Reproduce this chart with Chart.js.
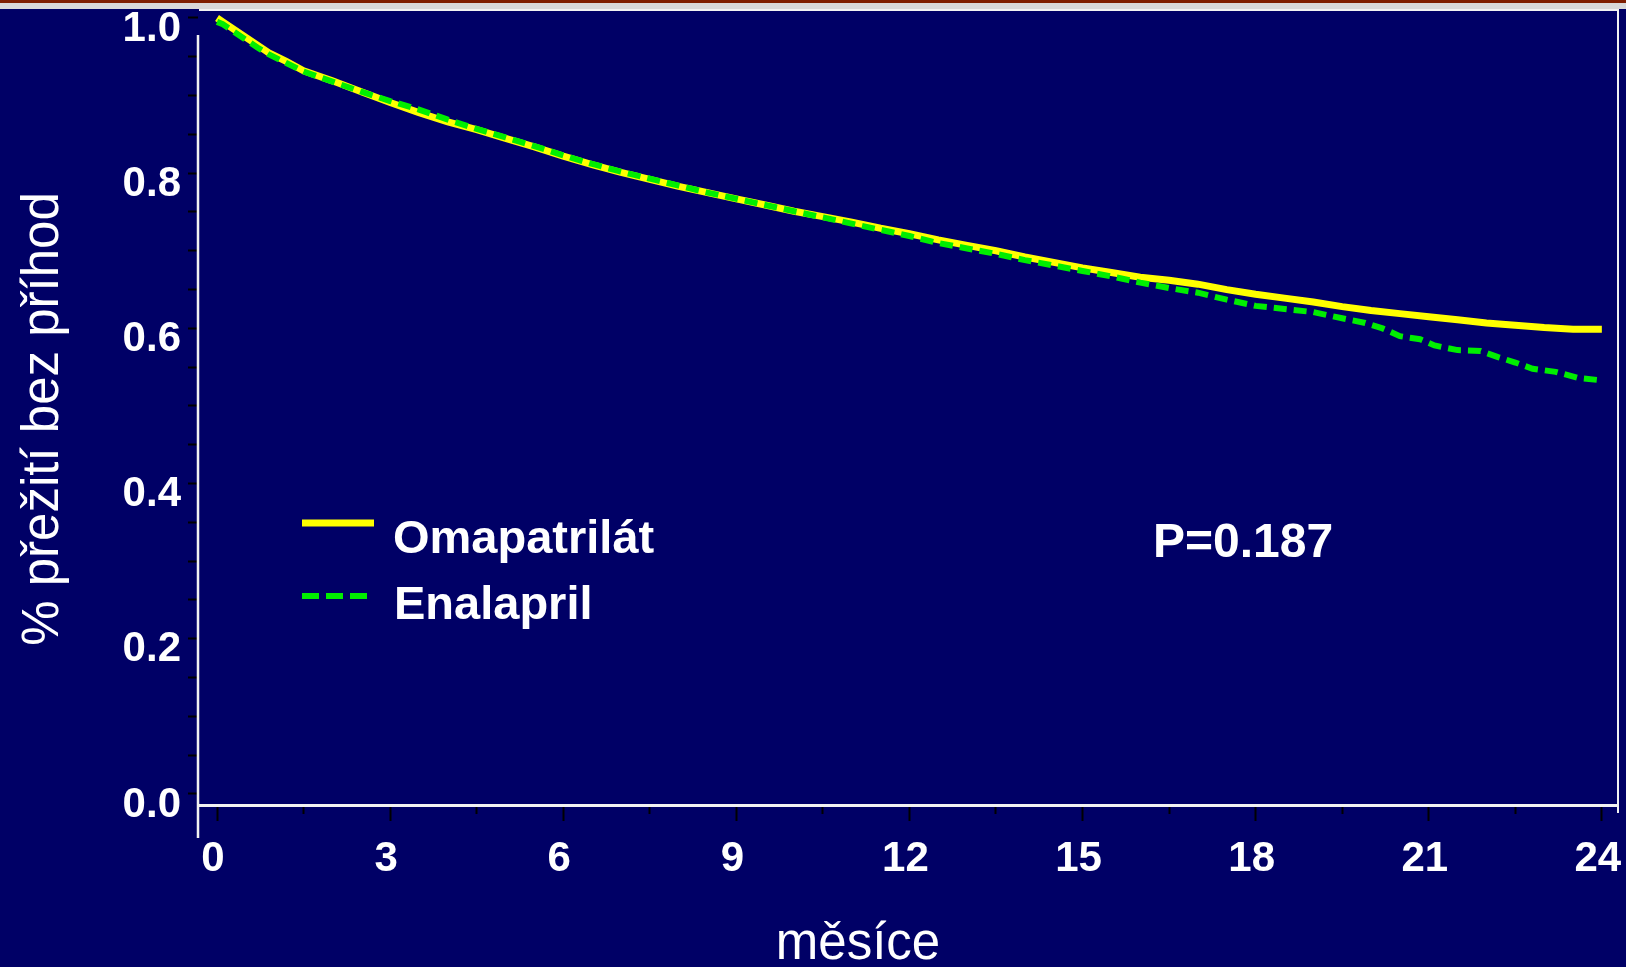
<!DOCTYPE html>
<html>
<head>
<meta charset="utf-8">
<script src="https://cdn.jsdelivr.net/npm/chart.js@4"></script>
<style>
  html, body { margin: 0; padding: 0; background: #000066; overflow: hidden; }
  #strip { position: absolute; top: 0; left: 0; width: 100%; height: 3px; background: #7e1e00; border-bottom: 6px solid #d8d8d8; }
  #survival { position: absolute; top: 0; left: 0; }
</style>
</head>
<body>
<div id="strip"></div>
<canvas id="survival" width="1626" height="967"></canvas>
<script>
const FONT = '"Liberation Sans", Arial, sans-serif';

// Kaplan-Meier estimates, months since randomisation
const omaMonths = [0, 0.1, 0.3, 0.5, 0.7, 0.9, 1.2, 1.5, 2, 2.5, 3, 3.5, 4, 4.5, 5, 5.5, 6, 6.5, 7, 7.5, 8, 8.5,
  9, 9.5, 10, 10.5, 11, 11.5, 12, 12.5, 13, 13.5, 14, 14.5, 15, 15.5, 16, 16.5, 17, 17.5, 18, 18.5, 19, 19.5,
  20, 20.5, 21, 21.5, 22, 22.5, 23, 23.5, 24];
const omaSurvival = [1.0, 0.995, 0.985, 0.975, 0.965, 0.955, 0.944, 0.932, 0.919, 0.905, 0.891, 0.878, 0.866, 0.856,
  0.845, 0.834, 0.822, 0.811, 0.801, 0.792, 0.783, 0.775, 0.767, 0.759, 0.751, 0.744, 0.737, 0.729, 0.722, 0.714,
  0.707, 0.700, 0.692, 0.685, 0.678, 0.672, 0.666, 0.662, 0.657, 0.650, 0.644, 0.639, 0.634, 0.628, 0.623, 0.619,
  0.615, 0.611, 0.607, 0.604, 0.601, 0.599, 0.599];

const enaMonths = [0, 0.1, 0.3, 0.5, 0.7, 0.9, 1.2, 1.5, 2, 2.5, 3, 3.5, 4, 4.5, 5, 5.5, 6, 6.5, 7, 7.5, 8, 8.5,
  9, 9.5, 10, 10.5, 11, 11.5, 12, 12.5, 13, 13.5, 14, 14.5, 15, 15.5, 16, 16.5, 17, 17.5, 18, 18.5, 19, 19.5,
  19.9, 20.2, 20.5, 20.85, 21.1, 21.5, 21.9, 22.2, 22.5, 22.8, 23.2, 23.6, 24];
const enaSurvival = [0.995, 0.992, 0.982, 0.972, 0.962, 0.953, 0.942, 0.931, 0.918, 0.905, 0.893, 0.882, 0.869, 0.857,
  0.846, 0.835, 0.823, 0.812, 0.802, 0.793, 0.784, 0.775, 0.767, 0.759, 0.751, 0.743, 0.735, 0.727, 0.719, 0.710,
  0.703, 0.696, 0.688, 0.681, 0.674, 0.667, 0.659, 0.652, 0.646, 0.637, 0.629, 0.625, 0.621, 0.613, 0.607, 0.600,
  0.590, 0.586, 0.578, 0.572, 0.571, 0.563, 0.556, 0.548, 0.544, 0.536, 0.533];

const seriesNames = ['Omapatrilát', 'Enalapril'];
const pValue = 'P=0.187';

const xMajor = [0, 3, 6, 9, 12, 15, 18, 21, 24];
const xLabels = ['0', '3', '6', '9', '12', '15', '18', '21', '24'];
const yMajor = [0, 0.2, 0.4, 0.6, 0.8, 1.0];
const yLabels = ['0.0', '0.2', '0.4', '0.6', '0.8', '1.0'];

const xTitle = 'měsíce';
const yTitle = '% přežití bez příhod';

function toPoints(xs, ys) {
  return xs.map((x, i) => ({ x: x, y: ys[i] }));
}

function isMajor(list, v) {
  return list.some(m => Math.abs(m - v) < 1e-6);
}

// major ticks with minor ones in between (x: 1 minor, y: 3 minor)
function withMinor(major, parts) {
  const out = [];
  for (let i = 0; i < major.length; i++) {
    out.push({ value: major[i] });
    if (i < major.length - 1) {
      const step = (major[i + 1] - major[i]) / parts;
      for (let k = 1; k < parts; k++) out.push({ value: major[i] + k * step });
    }
  }
  return out;
}

const slideText = {
  id: 'slideText',
  afterDraw(chart) {
    const ctx = chart.ctx;
    const area = chart.chartArea;
    const sets = chart.data.datasets;
    ctx.save();

    // frame lines and the left axis
    ctx.strokeStyle = '#f2f2f2';
    ctx.lineWidth = 2;
    ctx.beginPath();
    ctx.moveTo(area.left + 1, area.top);
    ctx.lineTo(area.right, area.top);
    ctx.lineTo(area.right, area.bottom + 8);
    ctx.stroke();
    ctx.lineWidth = 2.5;
    ctx.beginPath();
    ctx.moveTo(area.left, area.top + 25);
    ctx.lineTo(area.left, area.bottom + 33);
    ctx.stroke();

    // legend
    ctx.lineWidth = 7;
    ctx.strokeStyle = sets[0].borderColor;
    ctx.beginPath();
    ctx.moveTo(302, 523);
    ctx.lineTo(374, 523);
    ctx.stroke();
    ctx.lineWidth = 6;
    ctx.strokeStyle = sets[1].borderColor;
    ctx.setLineDash([17, 7]);
    ctx.beginPath();
    ctx.moveTo(302, 596);
    ctx.lineTo(370, 596);
    ctx.stroke();
    ctx.setLineDash([]);

    ctx.fillStyle = '#ffffff';
    ctx.textAlign = 'left';
    ctx.textBaseline = 'alphabetic';
    ctx.font = 'bold 47px ' + FONT;
    ctx.fillText(seriesNames[0], 393, 553);
    ctx.fillText(seriesNames[1], 394, 619);

    ctx.font = 'bold 48px ' + FONT;
    ctx.fillText(pValue, 1153, 557);

    // axis titles
    ctx.font = '51px ' + FONT;
    ctx.textAlign = 'center';
    ctx.fillText(xTitle, 858, 959);
    ctx.translate(58, 419);
    ctx.rotate(-Math.PI / 2);
    ctx.fillText(yTitle, 0, 0);
    ctx.restore();
  }
};

new Chart(document.getElementById('survival'), {
  type: 'line',
  data: {
    datasets: [{
      label: seriesNames[0],
      data: toPoints(omaMonths, omaSurvival),
      borderColor: '#ffff00',
      borderWidth: 7,
      pointRadius: 0,
      tension: 0,
      order: 1
    }, {
      label: seriesNames[1],
      data: toPoints(enaMonths, enaSurvival),
      borderColor: '#00ee00',
      borderWidth: 6,
      borderDash: [13, 7],
      pointRadius: 0,
      tension: 0,
      order: 0
    }]
  },
  options: {
    responsive: false,
    animation: false,
    events: [],
    layout: { padding: { top: 10, right: 8, left: 0, bottom: 0 } },
    plugins: {
      legend: { display: false },
      tooltip: { enabled: false }
    },
    scales: {
      x: {
        type: 'linear',
        min: -0.33,
        max: 24.28,
        afterBuildTicks: scale => { scale.ticks = withMinor(xMajor, 2); },
        afterFit: scale => {
          scale.height = 162;
          scale.paddingLeft = 0;
          scale.paddingRight = 0;
        },
        grid: {
          drawOnChartArea: false,
          tickLength: 16,
          tickWidth: 2,
          tickColor: '#000000',
          tickBorderDash: c => (c.tick && isMajor(xMajor, c.tick.value)) ? [] : [7, 40]
        },
        border: { display: true, color: '#f2f2f2', width: 3 },
        ticks: {
          autoSkip: false,
          maxRotation: 0,
          padding: 13,
          labelOffset: -4,
          color: '#ffffff',
          font: { family: FONT, size: 42, weight: 'bold' },
          callback: v => {
            const i = xMajor.findIndex(m => Math.abs(m - v) < 1e-6);
            return i >= 0 ? xLabels[i] : '';
          }
        }
      },
      y: {
        min: -0.0142,
        max: 1.0103,
        afterBuildTicks: scale => { scale.ticks = withMinor(yMajor, 4); },
        afterFit: scale => {
          scale.width = 198;
          scale.paddingTop = 0;
          scale.paddingBottom = 0;
        },
        grid: {
          drawOnChartArea: false,
          tickLength: 10,
          tickWidth: 2,
          tickColor: '#000000'
        },
        border: { display: false },
        ticks: {
          autoSkip: false,
          padding: 7,
          labelOffset: 11,
          color: '#ffffff',
          font: { family: FONT, size: 42, weight: 'bold' },
          callback: v => {
            const i = yMajor.findIndex(m => Math.abs(m - v) < 1e-6);
            return i >= 0 ? yLabels[i] : '';
          }
        }
      }
    }
  },
  plugins: [slideText]
});
</script>
</body>
</html>
